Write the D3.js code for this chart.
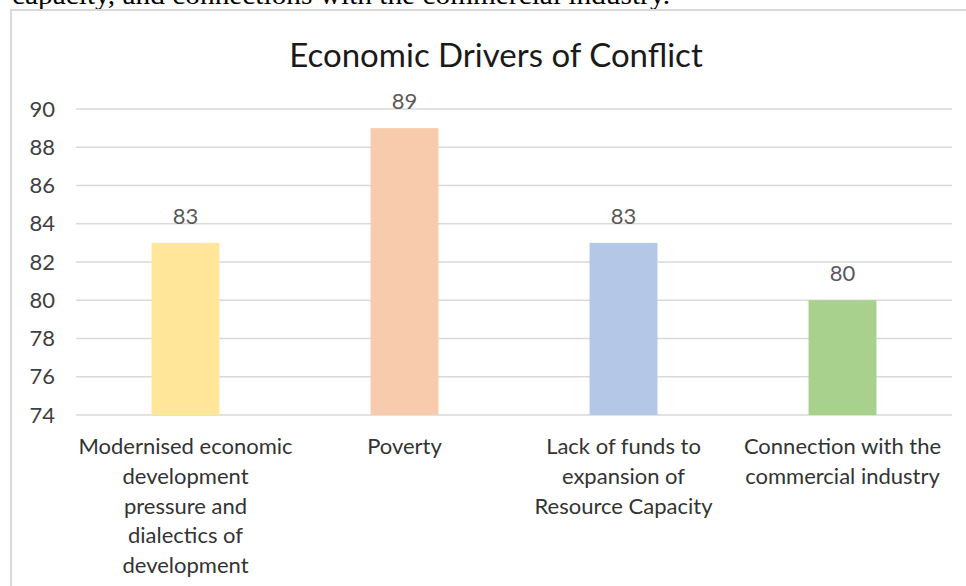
<!DOCTYPE html>
<html>
<head>
<meta charset="utf-8">
<script src="https://cdn.jsdelivr.net/npm/d3@7"></script>
<style>
  body { margin: 0; background: #fff; }
  svg { display: block; }
</style>
</head>
<body>
<svg id="chart" width="966" height="586"></svg>
<script>
// chart data
const categories = [
    "Modernised economic\ndevelopment\npressure and\ndialectics of\ndevelopment",
    "Poverty",
    "Lack of funds to\nexpansion of\nResource Capacity",
    "Connection with the\ncommercial industry"
];
const values = [83, 89, 83, 80];
const barColors = ["#FFE699", "#F8CBAD", "#B4C7E7", "#A9D18E"];
const yTicks = [74, 76, 78, 80, 82, 84, 86, 88, 90];

const svg = d3.select("#chart");
const font = "Lato, 'Open Sans', sans-serif";

// text cut off from the page above the chart
svg.append("text")
    .attr("x", 12)
    .attr("y", 4)
    .attr("font-family", "'Liberation Serif', 'DejaVu Serif', serif")
    .attr("font-size", "27px")
    .attr("fill", "#000")
    .attr("textLength", 658)
    .attr("lengthAdjust", "spacingAndGlyphs")
    .text("capacity, and connections with the commercial industry.");

// chart frame
svg.append("rect")
    .attr("x", 11)
    .attr("y", 10)
    .attr("width", 1000)
    .attr("height", 600)
    .attr("fill", "none")
    .attr("stroke", "#d9d9d9")
    .attr("stroke-width", 2);

// Scales
const x = d3.scaleBand()
    .domain(categories)
    .range([76, 952])
    .paddingInner(0.69)
    .paddingOuter(0.345);

const y = d3.scaleLinear()
    .domain([74, 90])
    .range([415, 109]);

// gridlines
svg.append("g")
    .selectAll("line")
    .data(yTicks)
    .enter()
    .append("line")
    .attr("x1", 76)
    .attr("x2", 952)
    .attr("y1", d => y(d))
    .attr("y2", d => y(d))
    .attr("stroke", "#d9d9d9")
    .attr("stroke-width", 1.5);

// y tick labels
svg.append("g")
    .selectAll("text")
    .data(yTicks)
    .enter()
    .append("text")
    .attr("x", 55)
    .attr("y", d => y(d))
    .attr("dy", "0.35em")
    .attr("text-anchor", "end")
    .attr("font-family", font)
    .attr("font-size", "22px")
    .attr("fill", "#404040")
    .text(d => d);

// bars
svg.append("g")
    .selectAll("rect")
    .data(values)
    .enter()
    .append("rect")
    .attr("x", (d, i) => x(categories[i]))
    .attr("y", d => y(d))
    .attr("width", x.bandwidth())
    .attr("height", d => y(74) - y(d))
    .attr("fill", (d, i) => barColors[i]);

// data labels
svg.append("g")
    .selectAll("text")
    .data(values)
    .enter()
    .append("text")
    .attr("x", (d, i) => x(categories[i]) + x.bandwidth() / 2)
    .attr("y", d => y(d) - 19)
    .attr("text-anchor", "middle")
    .attr("font-family", font)
    .attr("font-size", "22px")
    .attr("fill", "#595959")
    .text(d => d);

// category labels
const catLabels = svg.append("g")
    .selectAll("text")
    .data(categories)
    .enter()
    .append("text")
    .attr("x", d => x(d) + x.bandwidth() / 2)
    .attr("y", 454)
    .attr("text-anchor", "middle")
    .attr("font-family", font)
    .attr("font-size", "22px")
    .attr("fill", "#333333");

catLabels.each(function(d) {
    const t = d3.select(this);
    d.split("\n").forEach((line, i) => {
        t.append("tspan")
            .attr("x", t.attr("x"))
            .attr("dy", i === 0 ? 0 : 29.8)
            .text(line);
    });
});

// Chart title
svg.append("text")
    .attr("x", 496)
    .attr("y", 67)
    .attr("text-anchor", "middle")
    .attr("font-family", font)
    .attr("font-size", "33px")
    .attr("fill", "#1a1a1a")
    .text("Economic Drivers of Conflict");
</script>
</body>
</html>
